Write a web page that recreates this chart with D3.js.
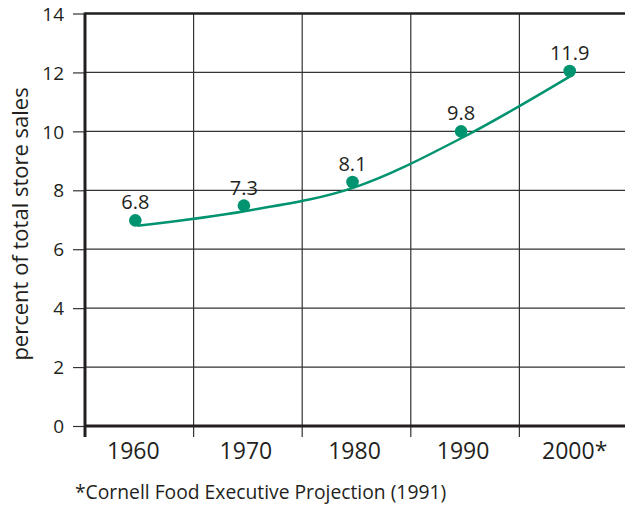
<!DOCTYPE html>
<html>
<head>
<meta charset="utf-8">
<script src="https://cdn.jsdelivr.net/npm/d3@7"></script>
<style>
  body { margin: 0; background: #fff; }
  svg text { font-family: "Open Sans", "Noto Sans", sans-serif; fill: #231f20; }
</style>
</head>
<body>
<svg id="chart" width="625" height="507"></svg>
<script>
// data
var years = ["1960", "1970", "1980", "1990", "2000*"];
var sales = [6.8, 7.3, 8.1, 9.8, 11.9];
// dots sit a little above the line in the original
var dotValues = [6.98, 7.48, 8.28, 10.0, 12.05];
var yTicks = [0, 2, 4, 6, 8, 10, 12, 14];

var plotLeft = 85, plotRight = 628, plotTop = 13.5, plotBottom = 426;
var green = "#00936f";

var svg = d3.select("#chart");

var x = d3.scaleBand().domain(years).range([plotLeft, plotRight]);
var y = d3.scaleLinear().domain([0, 14]).range([plotBottom, plotTop]);
var cx = function(d){ return x(d) + x.bandwidth() / 2 - 2; };

// horizontal grid
svg.append("g").selectAll("line")
  .data(yTicks.slice(1, -1)).enter()
  .append("line")
  .attr("x1", plotLeft).attr("x2", 625)
  .attr("y1", function(d){ return y(d); })
  .attr("y2", function(d){ return y(d); })
  .attr("stroke", "#333").attr("stroke-width", 1.2);

// vertical grid + x ticks
svg.append("g").selectAll("line")
  .data(years.slice(1)).enter()
  .append("line")
  .attr("x1", function(d){ return x(d); })
  .attr("x2", function(d){ return x(d); })
  .attr("y1", plotTop).attr("y2", plotBottom + 11)
  .attr("stroke", "#333").attr("stroke-width", 1.2);

// y axis ticks + labels
var yAxis = d3.axisLeft(y).tickValues(yTicks).tickSize(12).tickPadding(9);
var ya = svg.append("g").attr("transform", "translate(" + plotLeft + ",0)").call(yAxis);
ya.select(".domain").remove();
ya.selectAll(".tick line").attr("stroke", "#333").attr("stroke-width", 1.2);
ya.selectAll(".tick text").style("font-size", "19px").attr("fill", "#231f20").attr("dy", "0.35em");

// x labels
svg.append("g").selectAll("text")
  .data(years).enter()
  .append("text")
  .attr("x", function(d, i){ return cx(d) - (i == 0 ? 4 : 0) + (i == 4 ? 3 : 0); })
  .attr("y", 459)
  .attr("text-anchor", "middle")
  .style("font-size", "23px")
  .text(function(d){ return d; });

// frame
svg.append("line").attr("x1", plotLeft).attr("x2", plotLeft).attr("y1", plotTop - 1).attr("y2", plotBottom + 11)
  .attr("stroke", "#231f20").attr("stroke-width", 3);
svg.append("line").attr("x1", plotLeft).attr("x2", 625).attr("y1", plotTop).attr("y2", plotTop)
  .attr("stroke", "#231f20").attr("stroke-width", 2.5);
svg.append("line").attr("x1", plotLeft).attr("x2", 625).attr("y1", plotBottom).attr("y2", plotBottom)
  .attr("stroke", "#231f20").attr("stroke-width", 3);

// line
var line = d3.line()
  .x(function(d, i){ return cx(years[i]); })
  .y(function(d){ return y(d); })
  .curve(d3.curveMonotoneX);

svg.append("path")
  .datum(sales)
  .attr("d", line)
  .attr("fill", "none")
  .attr("stroke", green)
  .attr("stroke-width", 2.5);

// dots
svg.append("g").selectAll("circle")
  .data(dotValues).enter()
  .append("circle")
  .attr("cx", function(d, i){ return cx(years[i]) - 2; })
  .attr("cy", function(d){ return y(d); })
  .attr("r", 6.3)
  .attr("fill", green);

// value labels
svg.append("g").selectAll("text")
  .data(sales).enter()
  .append("text")
  .attr("x", function(d, i){ return cx(years[i]) - 2; })
  .attr("y", function(d, i){ return y(dotValues[i]) - 11; })
  .attr("text-anchor", "middle")
  .style("font-size", "20px")
  .text(function(d){ return d.toFixed(1); });

// y title
svg.append("text")
  .attr("transform", "translate(28,224) rotate(-90)")
  .attr("text-anchor", "middle")
  .style("font-size", "22px")
  .text("percent of total store sales");

// footnote
svg.append("text")
  .attr("x", 75).attr("y", 499)
  .style("font-size", "19.3px")
  .text("*Cornell Food Executive Projection (1991)");
</script>
</body>
</html>
